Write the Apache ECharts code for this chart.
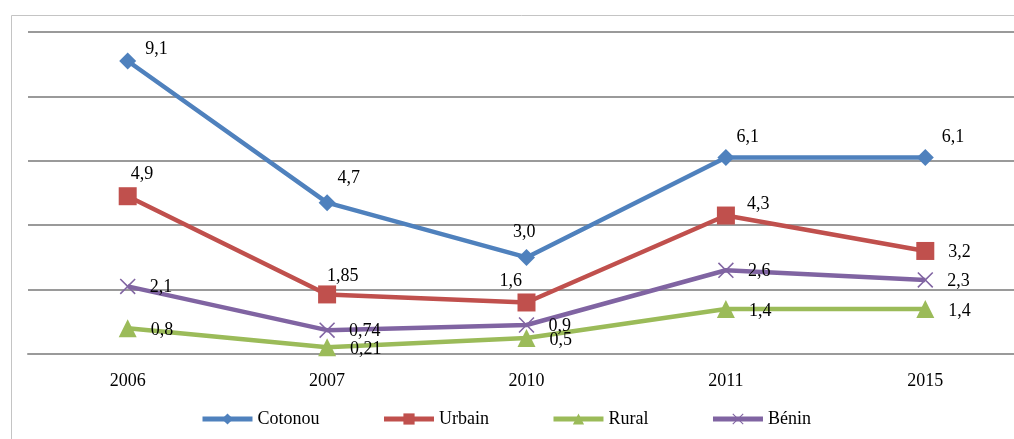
<!DOCTYPE html>
<html>
<head>
<meta charset="utf-8">
<script src="https://cdn.jsdelivr.net/npm/echarts@6/dist/echarts.min.js"></script>
<style>
  html, body { margin: 0; padding: 0; background: #fff; overflow: hidden; }
  #chart { width: 1030px; height: 439px; }
</style>
</head>
<body>
<div id="chart"></div>
<script>
const categories = ['2006', '2007', '2010', '2011', '2015'];
const cotonou = [9.1, 4.7, 3.0, 6.1, 6.1];
const urbain = [4.9, 1.85, 1.6, 4.3, 3.2];
const rural = [0.8, 0.21, 0.5, 1.4, 1.4];
const benin = [2.1, 0.74, 0.9, 2.6, 2.3];
const seriesNames = ['Cotonou', 'Urbain', 'Rural', 'Bénin'];

// label placement offsets (presentation only)
const cotonouLabelOffsets = [[4, -12], [-3, -24], [-27, -25], [-3, -20], [3, -20]];
const urbainLabelOffsets = [[-11, -22], [-14, -18], [-41, -21], [7, -11], [9, 1]];

const fmt = v => (Number.isInteger(v) ? v.toFixed(1) : String(v)).replace('.', ',');
const FONT = 'Liberation Serif';
const labelStyle = { show: true, position: 'right', distance: 5, color: '#000', fontFamily: FONT, fontSize: 18,
  formatter: p => fmt(p.value) };

function withOffsets(values, offsets) {
  return values.map((v, i) => ({ value: v, label: { offset: offsets[i] } }));
}

const xPath = 'path://M0,1.1L1.1,0L8,6.9L14.9,0L16,1.1L9.1,8L16,14.9L14.9,16L8,9.1L1.1,16L0,14.9L6.9,8Z';

const chart = echarts.init(document.getElementById('chart'), null, { renderer: 'canvas' });
chart.setOption({
  animation: false,
  backgroundColor: '#fff',
  graphic: [{
    type: 'rect', silent: true, z: -1,
    shape: { x: 11.5, y: 15.5, width: 1200, height: 600 },
    style: { fill: 'none', stroke: '#c4c4c4', lineWidth: 1 }
  }],
  grid: { left: 28, top: 32, width: 997, height: 322, containLabel: false },
  legend: {
    data: seriesNames,
    left: 195, top: 405,
    itemWidth: 50, itemHeight: 14, itemGap: 62,
    lineStyle: { width: 5 },
    textStyle: { color: '#000', fontFamily: FONT, fontSize: 18 }
  },
  xAxis: {
    type: 'category', data: categories, boundaryGap: true,
    axisLine: { show: true, lineStyle: { color: '#9a9a9a', width: 2 } },
    axisTick: { show: false },
    axisLabel: { color: '#000', fontFamily: FONT, fontSize: 18, margin: 18 }
  },
  yAxis: {
    type: 'value', min: 0, max: 10, interval: 2,
    axisLine: { show: false }, axisTick: { show: false }, axisLabel: { show: false },
    splitLine: { lineStyle: { color: '#9a9a9a', width: 2 } }
  },
  series: [
    { name: 'Cotonou', type: 'line', data: withOffsets(cotonou, cotonouLabelOffsets),
      symbol: 'diamond', symbolSize: 17, color: '#4F81BD',
      lineStyle: { width: 4.5, color: '#4F81BD' }, itemStyle: { color: '#4F81BD' },
      label: labelStyle, z: 4 },
    { name: 'Urbain', type: 'line', data: withOffsets(urbain, urbainLabelOffsets),
      symbol: 'rect', symbolSize: 18, color: '#C0504D',
      lineStyle: { width: 4.5, color: '#C0504D' }, itemStyle: { color: '#C0504D' },
      label: labelStyle, z: 3 },
    { name: 'Rural', type: 'line', data: rural,
      symbol: 'triangle', symbolSize: 18, color: '#9BBB59',
      lineStyle: { width: 4.5, color: '#9BBB59' }, itemStyle: { color: '#9BBB59' },
      label: Object.assign({}, labelStyle, { offset: [9, 2] }), z: 2 },
    { name: 'Bénin', type: 'line', data: benin,
      symbol: xPath, symbolSize: 16, color: '#8064A2',
      lineStyle: { width: 4.5, color: '#8064A2' }, itemStyle: { color: '#8064A2' },
      label: Object.assign({}, labelStyle, { offset: [9, 1] }), z: 2 }
  ]
});
</script>
</body>
</html>
